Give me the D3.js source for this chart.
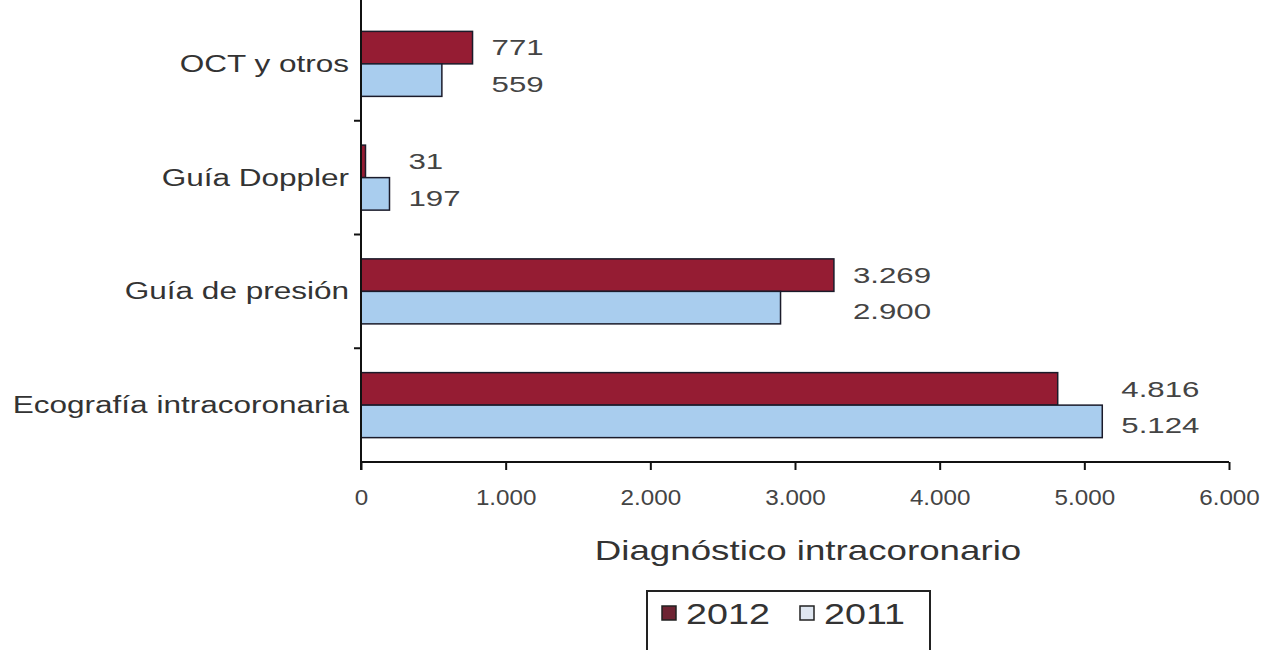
<!DOCTYPE html>
<html><head><meta charset="utf-8">
<script src="https://cdn.jsdelivr.net/npm/d3@7/dist/d3.min.js"></script>
<style>body{margin:0;background:#fff}svg{display:block}text{font-family:"Liberation Sans",Arial,sans-serif}</style>
</head><body><svg id="c" width="1278" height="650"></svg>
<script>
const categories = ["OCT y otros", "Guía Doppler", "Guía de presión", "Ecografía intracoronaria"];
const values2012 = [771, 31, 3269, 4816];
const values2011 = [559, 197, 2900, 5124];
const seriesNames = ["2012", "2011"];
const xTicks = [0, 1000, 2000, 3000, 4000, 5000, 6000];
const axisTitle = "Diagnóstico intracoronario";

const colors = {"2012": "#951c33", "2011": "#a9cdee"};
const loc = d3.formatLocale({decimal: ",", thousands: ".", grouping: [3], currency: ["", ""]});
const fmt = loc.format(",d");

const svg = d3.select("#c");
const x0 = 361, x1 = 1229, yTop = 7, yBot = 462;
const x = d3.scaleLinear().domain([0, 6000]).range([x0, x1]);
const y = d3.scaleBand().domain(categories).range([yTop, yBot]);
const inner = d3.scaleBand().domain(seriesNames).range([0, 65]);
const offset = (y.bandwidth() - 65) / 2;

// place text at (px,py) with horizontal stretch sx
function place(sel, px, py, sx) {
  sel.attr("x", 0).attr("y", 0)
     .attr("transform", function(d, i) {
       const X = typeof px === "function" ? px(d, i) : px;
       const Y = typeof py === "function" ? py(d, i) : py;
       return `translate(${X},${Y}) scale(${sx},1)`;
     });
}

const data = categories.map((c, i) => ({cat: c, vals: [{s: "2012", v: values2012[i]}, {s: "2011", v: values2011[i]}]}));

const g = svg.selectAll("g.cat").data(data).join("g").attr("class", "cat")
  .attr("transform", d => `translate(0,${y(d.cat) + offset})`);
g.selectAll("rect").data(d => d.vals).join("rect")
  .attr("x", x(0)).attr("y", d => inner(d.s))
  .attr("width", d => x(d.v) - x(0)).attr("height", inner.bandwidth())
  .attr("fill", d => colors[d.s]).attr("stroke", "#1b1b2a").attr("stroke-width", 1.5);
const vt = g.selectAll("text.val").data(d => d.vals.map(v => Object.assign({mx: Math.max(...d.vals.map(q => q.v))}, v))).join("text")
  .attr("class", "val")
  .attr("dy", "0.35em").attr("font-size", 22).attr("fill", "#444")
  .text(d => fmt(d.v));
place(vt, d => x(d.mx) + 19, (d, i) => inner(d.s) + inner.bandwidth() / 2 + (i === 0 ? 0 : 4), 1.42);

// x axis
const xa = svg.append("g").attr("transform", `translate(0,${yBot})`)
  .call(d3.axisBottom(x).tickValues(xTicks).tickFormat(fmt).tickSize(8));
xa.select(".domain").attr("stroke", "#111").attr("stroke-width", 2).attr("d", `M${x0},0H${x1}`);
xa.selectAll(".tick line").attr("stroke", "#111").attr("stroke-width", 2);
const tt = xa.selectAll(".tick text").attr("font-size", 22).attr("fill", "#444")
  .attr("font-family", "Liberation Sans, Arial, sans-serif").attr("dy", "0.35em");
place(tt, 0, 35, 1.1);

// y axis line
svg.append("line").attr("x1", x0).attr("x2", x0).attr("y1", 0).attr("y2", yBot + 8)
  .attr("stroke", "#111").attr("stroke-width", 2);
svg.selectAll("line.yt").data(categories.slice(1)).join("line").attr("class", "yt")
  .attr("x1", x0 - 7).attr("x2", x0).attr("y1", d => y(d)).attr("y2", d => y(d))
  .attr("stroke", "#111").attr("stroke-width", 2);
const ct = svg.selectAll("text.cat").data(categories).join("text").attr("class", "cat")
  .attr("dy", "0.35em")
  .attr("text-anchor", "end").attr("font-size", 23).attr("fill", "#333").text(d => d);
place(ct, 349, d => y(d) + y.bandwidth() / 2, 1.37);

const ti = svg.append("text").attr("dy", "0.35em")
  .attr("text-anchor", "middle").attr("font-size", 27).attr("fill", "#333").text(axisTitle);
place(ti, (x0 + x1) / 2 + 13, 551, 1.36);

// legend
const lg = svg.append("g");
lg.append("rect").attr("x", 647).attr("y", 591).attr("width", 283).attr("height", 80)
  .attr("fill", "none").attr("stroke", "#222").attr("stroke-width", 2);
const lx = [662, 800];
seriesNames.forEach((s, i) => {
  lg.append("rect").attr("x", lx[i]).attr("y", 606).attr("width", 14).attr("height", 14)
    .attr("fill", s === "2012" ? "#6e2433" : "#dfe6f0").attr("stroke", "#222").attr("stroke-width", 1.5);
  const t = lg.append("text").attr("dy", "0.35em")
    .attr("font-size", 29).attr("fill", "#333").text(s);
  place(t, lx[i] + 24, 614, 1.3);
});
</script></body></html>
